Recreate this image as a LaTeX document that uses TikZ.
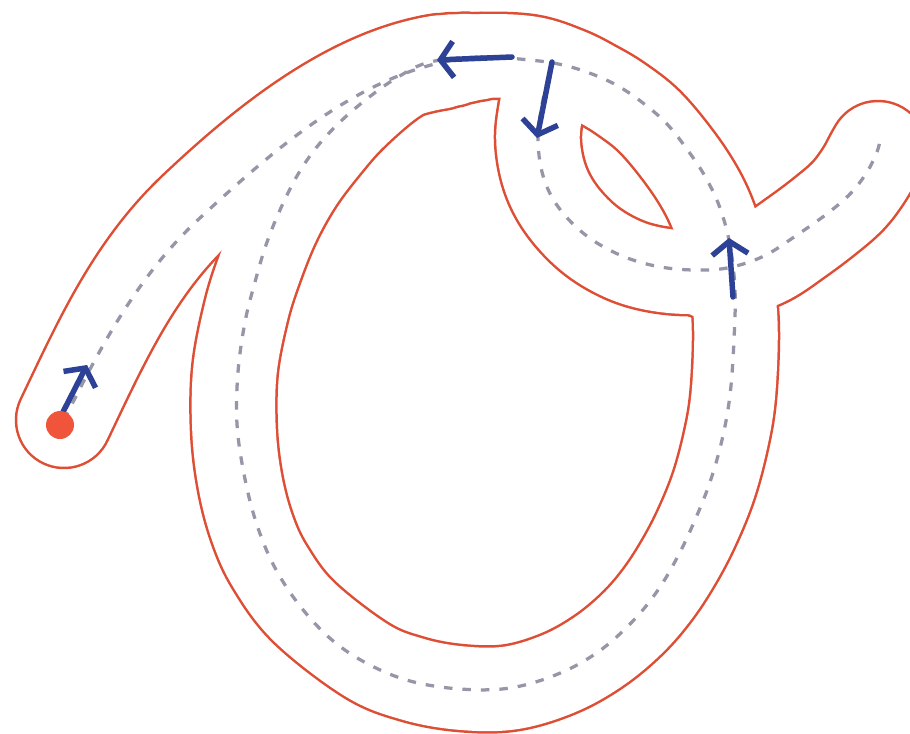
\documentclass[tikz,border=0pt]{standalone}
\usetikzlibrary{arrows.meta}
\definecolor{outline}{RGB}{222,78,52}
\definecolor{guide}{RGB}{150,150,168}
\definecolor{arrowblue}{RGB}{45,65,150}
\definecolor{dotred}{RGB}{240,85,60}
\begin{document}
\begin{tikzpicture}[x=0.02cm,y=-0.02cm,
  bandbase/.style={line cap=round,line join=round},
  redO/.style={bandbase,draw=outline,line width=1.77cm},
  whiteO/.style={bandbase,draw=white,line width=1.67cm},
  redA/.style={bandbase,draw=outline,line width=1.97cm},
  whiteA/.style={bandbase,draw=white,line width=1.87cm},
  redT/.style={bandbase,draw=outline,line width=2.01cm},
  whiteT/.style={bandbase,draw=white,line width=1.91cm},
  redKa/.style={bandbase,draw=outline,line width=1.93cm},
  whiteKa/.style={bandbase,draw=white,line width=1.83cm},
  redKb/.style={bandbase,draw=outline,line width=1.87cm},
  whiteKb/.style={bandbase,draw=white,line width=1.77cm},
  redKc/.style={bandbase,draw=outline,line width=1.81cm},
  whiteKc/.style={bandbase,draw=white,line width=1.71cm},
  guideline/.style={draw=guide,line width=0.065cm,dash pattern=on 0.17cm off 0.2cm},
  guidearrow/.style={draw=arrowblue,line width=0.11cm,line cap=round,line join=round,
    -{Straight Barb[length=0.26cm,width=0.72cm]}}
]
\useasboundingbox (0,0) rectangle (910,734);
\fill[white] (0,0) rectangle (910,734);
\clip (0,0) rectangle (910,734);

% ---------- bands: all red strokes first, then all white strokes ----------
\foreach \sa/\sb/\st/\ka/\kb/\kc in
   {redA/redO/redT/redKa/redKb/redKc,whiteA/whiteO/whiteT/whiteKa/whiteKb/whiteKc}{
  % the letter O
  \draw[\sb] plot[smooth cycle,tension=0.6] coordinates {
    (440,61) (480,56) (530,58) (568,70) (596,84) (621,99) (650,122) (680,158)
    (702,192) (716,224) (727,262) (734,300) (736,340) (733,398) (726,440)
    (714,485) (698,525) (680,560) (658,594) (632,624) (598,652) (558,674)
    (510,688) (460,688) (412,679) (366,660) (304,612) (270,567) (252,528)
    (240,482) (234,430) (235,370) (246,312) (259,270) (277,225) (299,185)
    (325,150) (355,116) (398,80)};
  % entry stroke from the dot
  \draw[\sa] (64,420) .. controls (100.5,343.5) and (133,270) .. (195,211)
                      .. controls (262,147.5) and (349,76) .. (440,62);
  % taper where the entry stroke joins the top of the O
  \draw[\ka] (430,63) -- (452,60);
  \draw[\kb] (440,61) -- (465,58);
  \draw[\kc] (450,60) -- (478,57);
  % small loop
  \draw[\sb] plot[smooth,tension=0.6] coordinates {
    (548,78) (541,110) (538,140) (543,172) (555,200) (575,226) (600,247)
    (632,263) (668,271) (707,272) (737,268) (760,260)};
  % tail
  \draw[\st] plot[smooth,tension=0.6] coordinates {
    (712,272) (737,268) (767,257) (797,237) (825,216) (848,196) (864,175)
    (874,157) (878,150)};
}

% ---------- dashed guide lines ----------
\draw[guideline] plot[smooth cycle,tension=0.6] coordinates {
    (430,62) (480,57) (530,60) (563,65) (592,74) (618,86) (643,103) (667,124)
    (689,152) (706,178) (720,208) (730,245) (735,290) (734,340) (730,395)
    (722,440) (710,482) (695,520) (678,556) (658,590) (632,622) (598,652)
    (558,674) (510,688) (460,689) (410,681) (368,664) (332,640) (300,606)
    (274,566) (256,522) (244,474) (237,424) (238,372) (245,322) (255,282)
    (266,245) (280,210) (297,176) (316,148) (340,122) (368,98) (398,77)};
\draw[guideline] (64,420) .. controls (102,344) and (138.5,274.6) .. (201,217)
                          .. controls (280,144) and (374,62) .. (482,57);
\draw[guideline] plot[smooth,tension=0.6] coordinates {
    (548,78) (541,110) (538,140) (542,172) (553,199) (572,223) (597,243)
    (630,259) (667,268) (707,270) (736,266) (766,255) (797,235) (828,213)
    (851,193) (867,172) (877,152) (880,140)};

% ---------- direction arrows ----------
\coordinate (a1s) at (63,412);  \coordinate (a1e) at (87,365);
\coordinate (a2s) at (512,57);  \coordinate (a2e) at (437,60);
\coordinate (a3s) at (552,62);  \coordinate (a3e) at (537,138);
\coordinate (a4s) at (733,297); \coordinate (a4e) at (729,238);
\draw[guidearrow] (a1s) -- (a1e);
\draw[guidearrow] (a2s) -- (a2e);
\draw[guidearrow] (a3s) -- (a3e);
\draw[guidearrow] (a4s) -- (a4e);

% ---------- start dot ----------
\node[circle,fill=dotred,minimum size=0.56cm,inner sep=0pt] (start) at (60,425) {};
\end{tikzpicture}
\end{document}
